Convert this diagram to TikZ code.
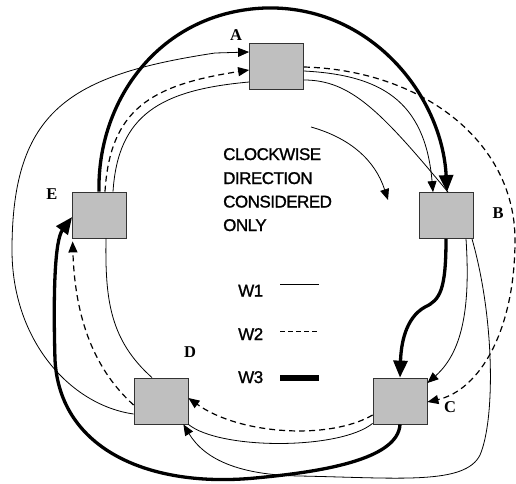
\documentclass[tikz,border=0pt]{standalone}
\usepackage{fontspec}
\setmainfont{Liberation Serif}
\newfontfamily\labsans[FakeBold=1.2,LetterSpace=-3]{Liberation Sans}
\usetikzlibrary{arrows.meta}
\tikzset{
  box/.style={draw=black!80, fill=black!25, line width=0.8pt, minimum width=54pt, minimum height=46pt, inner sep=0pt},
  lab/.style={font=\fontsize{16.5}{18}\selectfont\bfseries, inner sep=0pt},
  txt/.style={font=\fontsize{17}{20}\selectfont\labsans, inner sep=0pt, anchor=base west},
  w1/.style={line width=0.8pt},
  w2/.style={line width=1.2pt, dash pattern=on 6pt off 4pt},
  w3/.style={line width=3.3pt},
  tip/.style={-{Triangle[length=11pt,width=9pt]}},
  bigtip/.style={-{Triangle[length=17pt,width=14pt]}}
}
\begin{document}
\begin{tikzpicture}[x=1pt,y=-1pt]
\useasboundingbox (0,0) rectangle (516,483);
% boxes
\node[box] (A) at (276.5,66.5) {};
\node[box] (B) at (446,215.5) {};
\node[box] (C) at (400,401) {};
\node[box] (D) at (161,401) {};
\node[box] (E) at (99.5,215) {};
% labels
\node[lab] (la) at (236,35) {A};
\node[lab] (lb) at (498,213) {B};
\node[lab] (lc) at (450,407) {C};
\node[lab] (ld) at (190,352) {D};
\node[lab] (le) at (52,194) {E};
% central text
\node[txt] (t1) at (223,160) {CLOCKWISE};
\node[txt] (t2) at (223,184) {DIRECTION};
\node[txt] (t3) at (223,207.5) {CONSIDERED};
\node[txt] (t4) at (223,231) {ONLY};
\coordinate (ia1) at (311,127);
\coordinate (ia2) at (388,200);
\draw[w1,tip] (ia1) .. controls (350,138) and (375,160) .. (ia2);
% legend
\node[txt] (l1) at (238,296.5) {W1};
\node[txt] (l2) at (238,340) {W2};
\node[txt] (l3) at (238,383) {W3};
\coordinate (k1a) at (280,284.5); \coordinate (k1b) at (319,284.5);
\coordinate (k2a) at (280,331.5); \coordinate (k2b) at (319,331.5);
\coordinate (k3a) at (280,378); \coordinate (k3b) at (319,378);
\draw[line width=0.8pt] (k1a) -- (k1b);
\draw[line width=1.2pt, dash pattern=on 5pt off 3pt] (k2a) -- (k2b);
\draw[line width=5.5pt] (k3a) -- (k3b);
% W3 connectors
\draw[w3,bigtip] ([xshift=-0.5pt]E.north) .. controls (97,100) and (160,12) .. (265,8)
  .. controls (370,5) and (442,95) .. ([xshift=1pt]B.north);
\draw[w3,bigtip] (B.south) .. controls (446,290) and (440,300) .. (425,307)
  .. controls (405,318) and (401,345) .. (C.north);
\draw[w3,bigtip] (C.south) .. controls (398,460) and (320,472) .. (255,478)
  .. controls (150,488) and (60,450) .. (55,360)
  .. controls (53,290) and (55,240) .. ([yshift=-2pt]E.west);
% W2 connectors
\draw[w2,tip] ([xshift=5.5pt]E.north) .. controls (110,110) and (150,85) .. ([yshift=-3.5pt]A.west);
\draw[w2,tip] ([yshift=-0.5pt]A.east) .. controls (420,70) and (515,140) .. (515,240)
  .. controls (515,330) and (480,390) .. ([yshift=-1pt]C.east);
\draw[w2,tip] ([yshift=-14pt]C.west) .. controls (330,440) and (240,435) .. ([yshift=3pt]D.east);
\draw[w2,tip] ([yshift=-4pt]D.west) .. controls (95,370) and (75,320) .. ([xshift=0.5pt,yshift=-3pt]E.south west);
% W1 connectors
\draw[w1] ([xshift=13.5pt]E.north) .. controls (118,115) and (160,90) .. ([yshift=-15.5pt]A.west);
\draw[w1,tip] ([yshift=-13pt]D.west) .. controls (70,405) and (12,340) .. (12,250)
  .. controls (12,110) and (70,75) .. (215,53) -- ([yshift=14.5pt]A.west);
\draw[w1,tip] ([yshift=-4.5pt]A.east) .. controls (380,75) and (425,100) .. ([xshift=-13pt]B.north);
\draw[w1] ([yshift=-13.5pt]A.east) .. controls (350,80) and (380,110) .. ([xshift=2pt]B.north);
\draw[w1,tip] ([xshift=20pt]B.south) .. controls (470,300) and (465,350) .. ([yshift=18pt]C.east);
\draw[w1,tip] ([xshift=26pt]B.south) .. controls (495,320) and (495,420) .. (480,455)
  .. controls (465,485) and (400,478) .. (300,476)
  .. controls (240,475) and (205,460) .. ([xshift=-5pt]D.south east);
\draw[w1] ([yshift=1pt]C.south west) .. controls (340,450) and (220,450) .. (D.south east);
\draw[w1] ([xshift=-9pt]D.north) .. controls (110,340) and (105,300) .. ([xshift=6.5pt]E.south);
\end{tikzpicture}
\end{document}
